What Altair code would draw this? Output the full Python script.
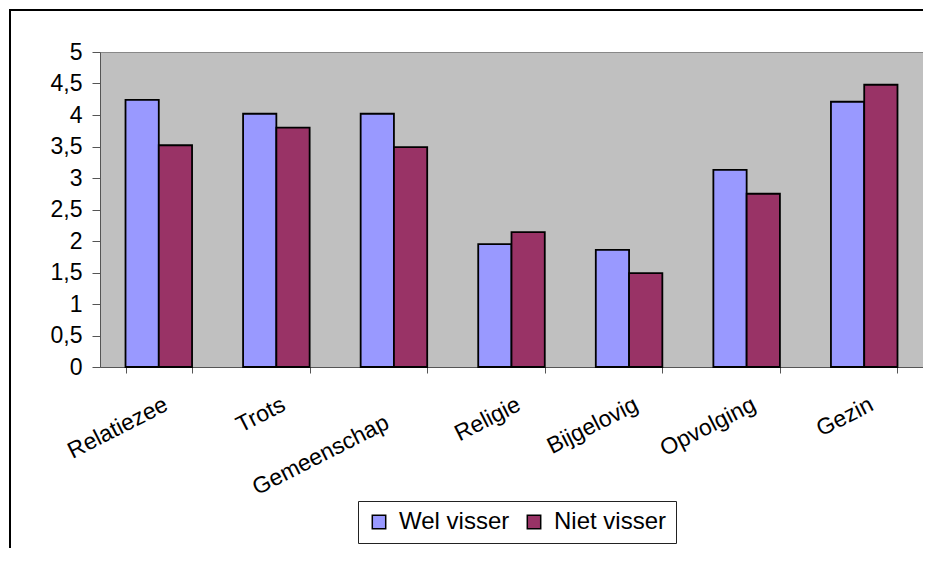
import altair as alt
import pandas as pd

categories = ["Relatiezee", "Trots", "Gemeenschap", "Religie", "Bijgelovig", "Opvolging", "Gezin"]
wel_visser = [4.24, 4.02, 4.02, 1.95, 1.86, 3.13, 4.21]
niet_visser = [3.52, 3.80, 3.49, 2.14, 1.49, 2.75, 4.48]
series = ["Wel visser", "Niet visser"]
colors = ["#9999FF", "#993366"]
y_ticks = [0, 0.5, 1, 1.5, 2, 2.5, 3, 3.5, 4, 4.5, 5]

rows = []
for c, w, n in zip(categories, wel_visser, niet_visser):
    rows.append({"cat": c, "serie": series[0], "val": w})
    rows.append({"cat": c, "serie": series[1], "val": n})
df = pd.DataFrame(rows)

W, H = 823, 315
FONT = "Liberation Sans"

bars = alt.Chart(df).mark_bar(stroke="black", strokeWidth=1.8).encode(
    x=alt.X(
        "cat:N",
        sort=categories,
        scale=alt.Scale(paddingInner=0.434, paddingOuter=0.217),
        axis=alt.Axis(
            title=None,
            labelAngle=-27,
            labelAlign="right",
            labelBaseline="top",
            labelPadding={"condition": {"test": "datum.value === 'Gemeenschap'", "value": 38}, "value": 20},
            labelOffset={"condition": {"test": "datum.value === 'Gemeenschap'", "value": -12}, "value": 2},
            labelFontSize=23,
            labelFont=FONT,
            labelColor="black",
            labelLimit=0,
            tickBand="extent",
            tickSize=6,
            tickColor="#555555",
            domainColor="#555555",
            grid=False,
        ),
    ),
    xOffset=alt.XOffset("serie:N", sort=series, scale=alt.Scale(paddingInner=0, paddingOuter=0)),
    y=alt.Y(
        "val:Q",
        scale=alt.Scale(domain=[0, 5], nice=False),
        axis=alt.Axis(
            title=None,
            values=y_ticks,
            format=".1~f",
            labelExpr="replace(datum.label, '.', ',')",
            labelFontSize=23,
            labelFont=FONT,
            labelColor="black",
            labelPadding=10,
            tickSize=8,
            tickColor="#555555",
            domainColor="#555555",
            grid=False,
        ),
    ),
    color=alt.Color(
        "serie:N",
        sort=series,
        scale=alt.Scale(domain=series, range=colors),
        legend=alt.Legend(
            title=None,
            orient="none",
            legendX=258,
            legendY=449,
            direction="horizontal",
            symbolType="square",
            symbolSize=180,
            symbolStrokeColor="black",
            symbolStrokeWidth=1.5,
            symbolOpacity=1,
            labelFontSize=24,
            labelFont=FONT,
            labelColor="black",
            labelOffset=8,
            columnPadding=12,
            padding=9,
            strokeColor="#222222",
            fillColor="white",
        ),
    ),
)

frame = alt.Chart(pd.DataFrame({"a": [0]})).mark_rect(
    fill="transparent", stroke="black", strokeWidth=2
).encode(
    x=alt.value(-90),
    x2=alt.value(W + 40),
    y=alt.value(-42),
    y2=alt.value(H + 300),
)

chart = alt.layer(bars, frame).properties(
    width=W,
    height=H,
    autosize=alt.AutoSizeParams(type="none"),
    padding={"left": 92, "top": 44, "right": 0, "bottom": 181},
    background="white",
).configure_view(fill="#C0C0C0", stroke="#888888", strokeWidth=1)

chart.save("out.html", embed_options={"renderer": "svg", "actions": False})
